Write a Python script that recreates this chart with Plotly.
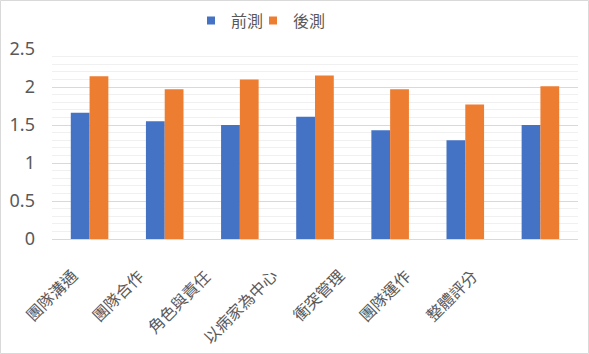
import plotly.graph_objects as go

categories = ["團隊溝通", "團隊合作", "角色與責任", "以病家為中心", "衝突管理", "團隊運作", "整體評分"]
pre_values = [1.66, 1.55, 1.50, 1.61, 1.43, 1.30, 1.50]
post_values = [2.14, 1.97, 2.10, 2.15, 1.97, 1.77, 2.01]
series_names = ["前測", "後測"]
series_colors = ["#4472C4", "#ED7D31"]
y_ticks = [0, 0.5, 1, 1.5, 2, 2.5]
y_tick_text = ["0", "0.5", "1", "1.5", "2", "2.5"]

FONT = "Noto Sans CJK TC"
GRAY = "#595959"

fig = go.Figure()
for name, vals, col in zip(series_names, [pre_values, post_values], series_colors):
    fig.add_trace(go.Bar(x=categories, y=vals, name=name, showlegend=False,
                         marker=dict(color=col, line=dict(width=0))))
# small square legend markers (Excel style), one legend box per entry
for k, (name, col) in enumerate(zip(series_names, series_colors)):
    fig.add_trace(go.Scatter(x=[None], y=[None], mode="markers", name=name,
                             legend="legend" if k == 0 else "legend2",
                             marker=dict(symbol="square", size=8, color=col),
                             hoverinfo="skip"))

# category labels as rotated annotations (Excel-like placement)
for i, c in enumerate(categories):
    fig.add_annotation(x=c, y=0, xref="x", yref="y", text=c, showarrow=False,
                       textangle=-45, xanchor="right", yanchor="top",
                       xshift=-(5 + 8.4 * i), yshift=-22,
                       font=dict(family=FONT, size=16, color=GRAY))

fig.add_shape(type="rect", xref="paper", yref="paper",
              x0=-51.5 / 526, x1=(588.5 - 52) / 526,
              y0=(239 - 353.5) / 190, y1=(239 - 0.5) / 190,
              line=dict(color="#d9d9d9", width=1), fillcolor="rgba(0,0,0,0)")

leg_common = dict(orientation="h", xanchor="left", y=1.15, yanchor="middle",
                  font=dict(family=FONT, size=16, color=GRAY),
                  itemwidth=30, itemclick=False, bgcolor="rgba(0,0,0,0)")
fig.update_layout(
    width=589, height=354,
    margin=dict(l=52, r=11, t=49, b=115, autoexpand=False),
    paper_bgcolor="white", plot_bgcolor="white",
    barmode="group", bargap=0.5, bargroupgap=0,
    font=dict(family=FONT, color=GRAY),
    legend=dict(x=(191 - 52) / 526, **leg_common),
    legend2=dict(x=(253 - 52) / 526, **leg_common),
    showlegend=True,
)
fig.update_xaxes(range=[-0.5, len(categories) - 0.5], autorange=False,
                 showticklabels=False, showgrid=False, showline=True,
                 linecolor="#d9d9d9", linewidth=1, ticks="")
fig.update_yaxes(range=[0, 2.5], tickvals=y_ticks, ticktext=y_tick_text,
                 showgrid=True, gridcolor="#d9d9d9", gridwidth=1,
                 zeroline=False, showline=False, ticks="",
                 ticklabelstandoff=16,
                 tickfont=dict(family="Noto Sans", size=18, color=GRAY),
                 minor=dict(dtick=0.1, showgrid=True, gridcolor="#f0f0f0", gridwidth=1))

fig.write_html("out.html")
